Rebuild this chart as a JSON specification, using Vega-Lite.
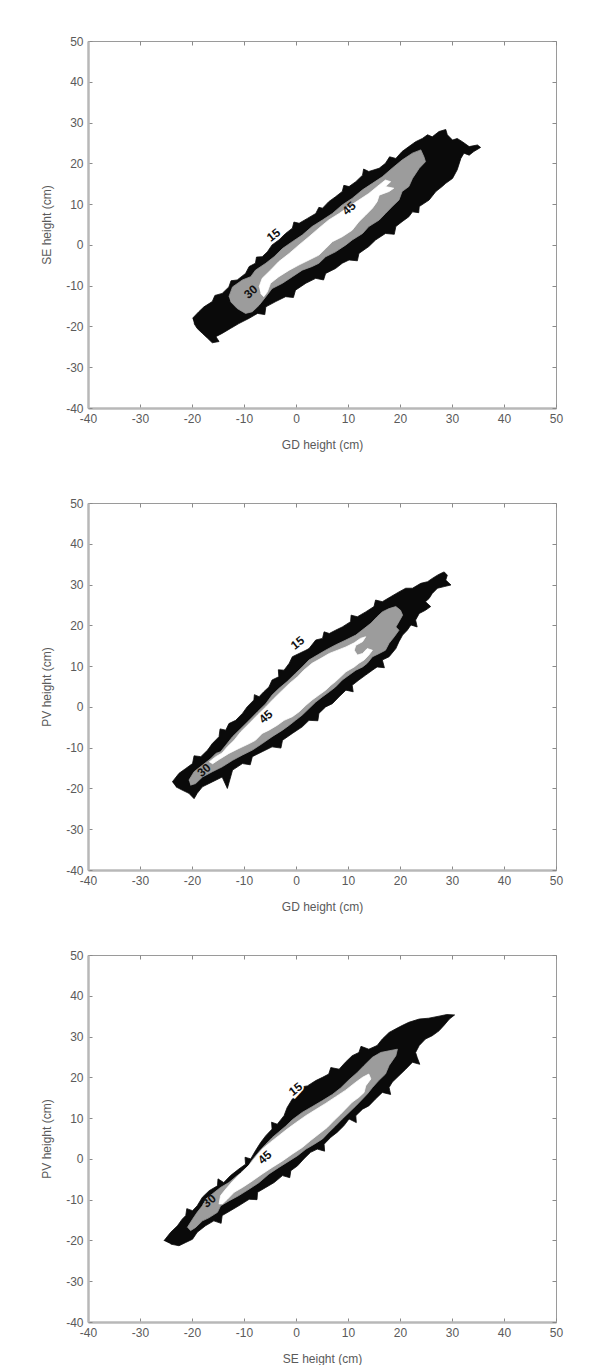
{
  "$schema": "https://vega.github.io/schema/vega-lite/v6.json",
  "background": "white",
  "padding": {"left": 40, "top": 34, "right": 0, "bottom": 0},
  "config": {
    "view": {"stroke": "#9a9a9a", "strokeWidth": 1},
    "axis": {
      "labelFont": "Liberation Sans", "labelFontSize": 12, "labelColor": "#5a5a5a",
      "titleFont": "Liberation Sans", "titleFontSize": 12, "titleFontWeight": "normal", "titleColor": "#5a5a5a",
      "domainColor": "#b8b8b8", "domainWidth": 2.5,
      "tickColor": "#8a8a8a", "tickSize": -4, "tickWidth": 1,
      "labelPadding": 9,
      "grid": false, "labelFlush": false, "labelOverlap": false
    },
    "axisX": {"titlePadding": 15},
    "axisY": {"titlePadding": 12}
  },
  "datasets": {
    "se_gd": [
      {"level":15,"x":-19.9,"y":-18.0},{"level":15,"x":-18.7,"y":-16.4},{"level":15,"x":-17.7,"y":-15.2},{"level":15,"x":-16.1,"y":-13.9},{"level":15,"x":-15.6,"y":-12.4},{"level":15,"x":-14.2,"y":-11.9},{"level":15,"x":-12.9,"y":-10.3},{"level":15,"x":-12.5,"y":-8.8},{"level":15,"x":-11.3,"y":-8.6},{"level":15,"x":-9.7,"y":-7.0},{"level":15,"x":-9.0,"y":-5.3},{"level":15,"x":-7.8,"y":-4.5},{"level":15,"x":-7.6,"y":-3.0},{"level":15,"x":-6.5,"y":-2.9},{"level":15,"x":-5.5,"y":-1.7},{"level":15,"x":-4.6,"y":0.0},{"level":15,"x":-3.3,"y":1.2},{"level":15,"x":-2.0,"y":2.8},{"level":15,"x":-0.7,"y":4.1},{"level":15,"x":-0.4,"y":5.6},{"level":15,"x":0.6,"y":5.3},{"level":15,"x":2.2,"y":6.5},{"level":15,"x":3.8,"y":7.7},{"level":15,"x":4.4,"y":9.2},{"level":15,"x":5.1,"y":9.0},{"level":15,"x":6.3,"y":10.6},{"level":15,"x":7.6,"y":11.8},{"level":15,"x":8.9,"y":13.1},{"level":15,"x":9.2,"y":14.6},{"level":15,"x":10.2,"y":14.3},{"level":15,"x":11.5,"y":15.5},{"level":15,"x":12.8,"y":17.1},{"level":15,"x":13.0,"y":18.6},{"level":15,"x":14.0,"y":18.0},{"level":15,"x":16.0,"y":18.8},{"level":15,"x":17.2,"y":20.0},{"level":15,"x":18.0,"y":21.6},{"level":15,"x":19.2,"y":21.2},{"level":15,"x":20.4,"y":22.9},{"level":15,"x":21.7,"y":24.1},{"level":15,"x":23.0,"y":25.3},{"level":15,"x":24.3,"y":26.1},{"level":15,"x":25.3,"y":27.0},{"level":15,"x":26.2,"y":26.5},{"level":15,"x":27.5,"y":27.8},{"level":15,"x":28.8,"y":28.3},{"level":15,"x":29.1,"y":27.0},{"level":15,"x":30.1,"y":25.7},{"level":15,"x":31.0,"y":26.1},{"level":15,"x":32.0,"y":25.3},{"level":15,"x":33.3,"y":24.1},{"level":15,"x":34.9,"y":24.5},{"level":15,"x":35.5,"y":23.9},{"level":15,"x":34.2,"y":22.9},{"level":15,"x":33.3,"y":22.0},{"level":15,"x":32.3,"y":22.5},{"level":15,"x":31.7,"y":21.2},{"level":15,"x":31.0,"y":18.4},{"level":15,"x":30.1,"y":16.3},{"level":15,"x":28.8,"y":15.1},{"level":15,"x":28.1,"y":14.3},{"level":15,"x":26.9,"y":13.1},{"level":15,"x":25.6,"y":11.0},{"level":15,"x":23.7,"y":9.4},{"level":15,"x":23.6,"y":7.9},{"level":15,"x":22.4,"y":8.1},{"level":15,"x":21.7,"y":6.9},{"level":15,"x":20.4,"y":5.7},{"level":15,"x":19.2,"y":4.5},{"level":15,"x":18.9,"y":2.6},{"level":15,"x":17.2,"y":2.8},{"level":15,"x":15.3,"y":1.2},{"level":15,"x":14.0,"y":-0.4},{"level":15,"x":12.1,"y":-2.1},{"level":15,"x":11.8,"y":-3.9},{"level":15,"x":10.2,"y":-3.7},{"level":15,"x":8.9,"y":-4.5},{"level":15,"x":7.6,"y":-5.8},{"level":15,"x":5.7,"y":-7.0},{"level":15,"x":5.3,"y":-8.6},{"level":15,"x":3.8,"y":-8.2},{"level":15,"x":1.9,"y":-9.4},{"level":15,"x":-0.1,"y":-11.1},{"level":15,"x":-0.5,"y":-12.9},{"level":15,"x":-2.0,"y":-12.7},{"level":15,"x":-3.9,"y":-13.9},{"level":15,"x":-5.8,"y":-15.2},{"level":15,"x":-6.0,"y":-17.1},{"level":15,"x":-7.4,"y":-16.8},{"level":15,"x":-9.0,"y":-18.0},{"level":15,"x":-11.0,"y":-19.3},{"level":15,"x":-12.6,"y":-20.5},{"level":15,"x":-14.2,"y":-21.7},{"level":15,"x":-15.4,"y":-22.5},{"level":15,"x":-14.8,"y":-23.7},{"level":15,"x":-16.1,"y":-24.0},{"level":15,"x":-17.0,"y":-22.9},{"level":15,"x":-18.0,"y":-21.7},{"level":15,"x":-19.0,"y":-20.5},{"level":15,"x":-19.6,"y":-19.3},
      {"level":30,"x":-12.9,"y":-12.7},{"level":30,"x":-12.2,"y":-10.3},{"level":30,"x":-10.3,"y":-8.6},{"level":30,"x":-8.7,"y":-7.8},{"level":30,"x":-7.8,"y":-6.2},{"level":30,"x":-5.8,"y":-4.5},{"level":30,"x":-4.2,"y":-2.9},{"level":30,"x":-2.6,"y":-0.9},{"level":30,"x":-0.7,"y":0.8},{"level":30,"x":1.2,"y":2.4},{"level":30,"x":3.1,"y":4.5},{"level":30,"x":5.1,"y":6.1},{"level":30,"x":7.0,"y":7.7},{"level":30,"x":8.9,"y":9.8},{"level":30,"x":10.8,"y":11.4},{"level":30,"x":12.8,"y":13.5},{"level":30,"x":14.7,"y":15.1},{"level":30,"x":16.6,"y":16.7},{"level":30,"x":18.5,"y":18.8},{"level":30,"x":20.4,"y":20.8},{"level":30,"x":22.4,"y":22.5},{"level":30,"x":24.0,"y":23.3},{"level":30,"x":24.6,"y":21.6},{"level":30,"x":24.9,"y":20.4},{"level":30,"x":23.7,"y":18.8},{"level":30,"x":22.4,"y":16.3},{"level":30,"x":21.7,"y":14.3},{"level":30,"x":20.4,"y":13.1},{"level":30,"x":19.8,"y":11.0},{"level":30,"x":18.5,"y":9.4},{"level":30,"x":17.2,"y":7.7},{"level":30,"x":16.0,"y":6.1},{"level":30,"x":14.0,"y":4.5},{"level":30,"x":12.8,"y":2.8},{"level":30,"x":10.8,"y":1.2},{"level":30,"x":9.6,"y":0.0},{"level":30,"x":7.6,"y":-1.7},{"level":30,"x":5.7,"y":-2.9},{"level":30,"x":4.4,"y":-4.5},{"level":30,"x":3.1,"y":-5.3},{"level":30,"x":1.2,"y":-6.2},{"level":30,"x":-0.7,"y":-7.8},{"level":30,"x":-2.6,"y":-9.4},{"level":30,"x":-4.6,"y":-10.7},{"level":30,"x":-5.8,"y":-12.7},{"level":30,"x":-7.1,"y":-14.8},{"level":30,"x":-8.4,"y":-16.4},{"level":30,"x":-9.7,"y":-16.8},{"level":30,"x":-11.3,"y":-15.6},{"level":30,"x":-12.6,"y":-13.9},
      {"level":45,"x":-7.1,"y":-10.3},{"level":45,"x":-6.5,"y":-8.2},{"level":45,"x":-4.9,"y":-6.2},{"level":45,"x":-3.3,"y":-4.1},{"level":45,"x":-1.3,"y":-2.1},{"level":45,"x":0.6,"y":0.0},{"level":45,"x":2.5,"y":2.0},{"level":45,"x":4.4,"y":4.1},{"level":45,"x":6.3,"y":6.1},{"level":45,"x":8.3,"y":7.7},{"level":45,"x":10.2,"y":9.4},{"level":45,"x":12.1,"y":11.0},{"level":45,"x":14.0,"y":12.6},{"level":45,"x":16.0,"y":14.7},{"level":45,"x":17.2,"y":15.9},{"level":45,"x":18.2,"y":15.5},{"level":45,"x":17.2,"y":14.3},{"level":45,"x":18.8,"y":13.9},{"level":45,"x":17.9,"y":13.1},{"level":45,"x":16.0,"y":12.2},{"level":45,"x":15.6,"y":10.6},{"level":45,"x":14.7,"y":9.0},{"level":45,"x":13.4,"y":7.3},{"level":45,"x":12.1,"y":5.7},{"level":45,"x":10.8,"y":3.6},{"level":45,"x":8.9,"y":2.0},{"level":45,"x":7.0,"y":0.8},{"level":45,"x":5.7,"y":-0.9},{"level":45,"x":4.4,"y":-2.5},{"level":45,"x":2.5,"y":-3.7},{"level":45,"x":0.6,"y":-4.9},{"level":45,"x":-1.3,"y":-6.2},{"level":45,"x":-3.3,"y":-7.8},{"level":45,"x":-4.9,"y":-9.4},{"level":45,"x":-5.5,"y":-11.5},{"level":45,"x":-6.2,"y":-12.7},{"level":45,"x":-6.8,"y":-11.9}
    ],
    "pv_gd": [
      {"level":15,"x":-23.8,"y":-18.4},{"level":15,"x":-22.5,"y":-16.3},{"level":15,"x":-21.2,"y":-15.1},{"level":15,"x":-19.9,"y":-13.9},{"level":15,"x":-19.6,"y":-12.0},{"level":15,"x":-18.3,"y":-12.2},{"level":15,"x":-17.0,"y":-10.6},{"level":15,"x":-16.1,"y":-9.0},{"level":15,"x":-14.8,"y":-7.3},{"level":15,"x":-14.6,"y":-5.4},{"level":15,"x":-13.5,"y":-5.7},{"level":15,"x":-12.9,"y":-4.1},{"level":15,"x":-11.6,"y":-3.3},{"level":15,"x":-10.3,"y":-1.6},{"level":15,"x":-9.4,"y":0.0},{"level":15,"x":-8.1,"y":1.7},{"level":15,"x":-8.0,"y":3.0},{"level":15,"x":-7.1,"y":2.5},{"level":15,"x":-6.2,"y":3.7},{"level":15,"x":-5.2,"y":4.9},{"level":15,"x":-4.6,"y":6.6},{"level":15,"x":-3.3,"y":7.4},{"level":15,"x":-3.4,"y":9.1},{"level":15,"x":-2.3,"y":9.0},{"level":15,"x":-1.3,"y":10.7},{"level":15,"x":-0.7,"y":12.3},{"level":15,"x":0.6,"y":13.1},{"level":15,"x":1.9,"y":13.9},{"level":15,"x":2.5,"y":14.3},{"level":15,"x":3.8,"y":16.4},{"level":15,"x":5.1,"y":16.8},{"level":15,"x":5.4,"y":18.4},{"level":15,"x":6.4,"y":18.0},{"level":15,"x":7.6,"y":18.8},{"level":15,"x":8.9,"y":19.6},{"level":15,"x":10.5,"y":20.9},{"level":15,"x":10.6,"y":22.5},{"level":15,"x":11.8,"y":22.1},{"level":15,"x":13.4,"y":23.3},{"level":15,"x":15.0,"y":24.6},{"level":15,"x":15.3,"y":26.2},{"level":15,"x":16.6,"y":25.8},{"level":15,"x":18.2,"y":27.0},{"level":15,"x":19.8,"y":28.2},{"level":15,"x":21.1,"y":29.1},{"level":15,"x":22.4,"y":29.1},{"level":15,"x":24.0,"y":30.3},{"level":15,"x":25.3,"y":30.7},{"level":15,"x":26.2,"y":31.5},{"level":15,"x":27.2,"y":32.3},{"level":15,"x":27.8,"y":32.7},{"level":15,"x":28.5,"y":33.1},{"level":15,"x":29.1,"y":32.3},{"level":15,"x":28.8,"y":31.1},{"level":15,"x":29.8,"y":29.9},{"level":15,"x":28.5,"y":29.5},{"level":15,"x":27.2,"y":29.1},{"level":15,"x":26.2,"y":27.8},{"level":15,"x":25.6,"y":26.6},{"level":15,"x":24.9,"y":25.8},{"level":15,"x":25.9,"y":24.6},{"level":15,"x":24.9,"y":23.7},{"level":15,"x":23.7,"y":22.9},{"level":15,"x":23.0,"y":21.3},{"level":15,"x":23.3,"y":19.6},{"level":15,"x":22.1,"y":20.1},{"level":15,"x":21.4,"y":18.8},{"level":15,"x":20.5,"y":17.6},{"level":15,"x":19.8,"y":16.0},{"level":15,"x":19.2,"y":14.3},{"level":15,"x":17.9,"y":12.3},{"level":15,"x":16.6,"y":11.5},{"level":15,"x":17.0,"y":9.6},{"level":15,"x":15.6,"y":9.8},{"level":15,"x":14.7,"y":9.0},{"level":15,"x":13.4,"y":7.8},{"level":15,"x":12.1,"y":6.6},{"level":15,"x":10.8,"y":5.3},{"level":15,"x":11.0,"y":3.7},{"level":15,"x":9.6,"y":4.1},{"level":15,"x":8.3,"y":2.5},{"level":15,"x":7.0,"y":0.8},{"level":15,"x":5.7,"y":0.0},{"level":15,"x":4.4,"y":-1.6},{"level":15,"x":4.2,"y":-3.4},{"level":15,"x":2.5,"y":-3.3},{"level":15,"x":1.2,"y":-4.9},{"level":15,"x":-0.7,"y":-6.5},{"level":15,"x":-2.6,"y":-8.2},{"level":15,"x":-2.9,"y":-10.1},{"level":15,"x":-4.6,"y":-9.8},{"level":15,"x":-6.5,"y":-11.0},{"level":15,"x":-8.4,"y":-12.2},{"level":15,"x":-8.8,"y":-14.2},{"level":15,"x":-10.3,"y":-13.9},{"level":15,"x":-12.2,"y":-15.5},{"level":15,"x":-13.2,"y":-20.0},{"level":15,"x":-14.2,"y":-17.2},{"level":15,"x":-16.1,"y":-18.4},{"level":15,"x":-18.0,"y":-19.6},{"level":15,"x":-19.0,"y":-21.2},{"level":15,"x":-19.6,"y":-22.5},{"level":15,"x":-20.6,"y":-21.2},{"level":15,"x":-21.9,"y":-20.4},{"level":15,"x":-23.1,"y":-19.6},
      {"level":30,"x":-20.6,"y":-18.0},{"level":30,"x":-19.6,"y":-15.9},{"level":30,"x":-18.0,"y":-14.3},{"level":30,"x":-16.4,"y":-12.7},{"level":30,"x":-15.4,"y":-11.4},{"level":30,"x":-14.5,"y":-11.0},{"level":30,"x":-13.5,"y":-9.4},{"level":30,"x":-12.2,"y":-7.3},{"level":30,"x":-10.6,"y":-5.3},{"level":30,"x":-9.0,"y":-3.3},{"level":30,"x":-7.4,"y":-1.2},{"level":30,"x":-5.8,"y":0.8},{"level":30,"x":-4.6,"y":2.9},{"level":30,"x":-3.3,"y":4.5},{"level":30,"x":-1.7,"y":6.2},{"level":30,"x":-0.1,"y":8.2},{"level":30,"x":1.2,"y":9.8},{"level":30,"x":2.5,"y":11.5},{"level":30,"x":4.1,"y":12.7},{"level":30,"x":5.7,"y":13.9},{"level":30,"x":7.6,"y":15.2},{"level":30,"x":9.6,"y":16.4},{"level":30,"x":11.5,"y":17.6},{"level":30,"x":13.1,"y":19.2},{"level":30,"x":14.4,"y":20.5},{"level":30,"x":15.6,"y":22.1},{"level":30,"x":16.6,"y":23.3},{"level":30,"x":17.9,"y":24.1},{"level":30,"x":19.2,"y":24.6},{"level":30,"x":20.1,"y":23.7},{"level":30,"x":20.5,"y":22.5},{"level":30,"x":19.8,"y":20.9},{"level":30,"x":19.2,"y":19.6},{"level":30,"x":19.8,"y":18.8},{"level":30,"x":18.9,"y":17.2},{"level":30,"x":17.9,"y":15.6},{"level":30,"x":17.2,"y":13.9},{"level":30,"x":16.0,"y":13.1},{"level":30,"x":14.7,"y":12.3},{"level":30,"x":13.7,"y":10.7},{"level":30,"x":12.8,"y":9.8},{"level":30,"x":11.5,"y":9.0},{"level":30,"x":10.2,"y":7.8},{"level":30,"x":8.9,"y":6.6},{"level":30,"x":7.6,"y":4.9},{"level":30,"x":6.4,"y":3.7},{"level":30,"x":5.1,"y":2.5},{"level":30,"x":3.8,"y":1.2},{"level":30,"x":2.5,"y":-0.4},{"level":30,"x":1.2,"y":-2.0},{"level":30,"x":-0.1,"y":-3.3},{"level":30,"x":-1.3,"y":-4.5},{"level":30,"x":-2.6,"y":-5.7},{"level":30,"x":-4.6,"y":-7.3},{"level":30,"x":-6.5,"y":-9.0},{"level":30,"x":-8.4,"y":-10.6},{"level":30,"x":-10.3,"y":-11.8},{"level":30,"x":-12.2,"y":-13.1},{"level":30,"x":-14.2,"y":-14.7},{"level":30,"x":-16.1,"y":-15.9},{"level":30,"x":-18.0,"y":-17.2},{"level":30,"x":-19.3,"y":-18.8},{"level":30,"x":-20.3,"y":-19.2},
      {"level":45,"x":-16.7,"y":-13.5},{"level":45,"x":-15.4,"y":-12.2},{"level":45,"x":-14.2,"y":-11.3},{"level":45,"x":-13.2,"y":-9.8},{"level":45,"x":-11.9,"y":-8.2},{"level":45,"x":-10.6,"y":-6.1},{"level":45,"x":-9.0,"y":-4.1},{"level":45,"x":-7.4,"y":-2.0},{"level":45,"x":-5.8,"y":0.0},{"level":45,"x":-4.2,"y":2.1},{"level":45,"x":-2.6,"y":4.1},{"level":45,"x":-1.3,"y":5.7},{"level":45,"x":0.3,"y":7.4},{"level":45,"x":1.5,"y":9.0},{"level":45,"x":3.1,"y":10.7},{"level":45,"x":4.8,"y":11.9},{"level":45,"x":6.4,"y":13.1},{"level":45,"x":8.0,"y":13.9},{"level":45,"x":9.6,"y":14.7},{"level":45,"x":11.2,"y":15.7},{"level":45,"x":12.4,"y":16.8},{"level":45,"x":13.4,"y":17.2},{"level":45,"x":12.8,"y":16.0},{"level":45,"x":11.5,"y":15.1},{"level":45,"x":11.2,"y":13.9},{"level":45,"x":11.8,"y":12.7},{"level":45,"x":12.8,"y":13.1},{"level":45,"x":13.7,"y":14.3},{"level":45,"x":14.7,"y":13.9},{"level":45,"x":14.0,"y":12.7},{"level":45,"x":13.1,"y":11.5},{"level":45,"x":12.1,"y":10.7},{"level":45,"x":11.2,"y":9.8},{"level":45,"x":9.6,"y":8.6},{"level":45,"x":8.6,"y":7.4},{"level":45,"x":7.6,"y":6.2},{"level":45,"x":6.7,"y":5.3},{"level":45,"x":5.7,"y":4.1},{"level":45,"x":4.4,"y":2.9},{"level":45,"x":3.1,"y":1.7},{"level":45,"x":1.9,"y":0.4},{"level":45,"x":0.6,"y":-1.2},{"level":45,"x":-0.7,"y":-2.4},{"level":45,"x":-2.3,"y":-3.3},{"level":45,"x":-3.6,"y":-4.5},{"level":45,"x":-5.2,"y":-5.7},{"level":45,"x":-6.5,"y":-6.5},{"level":45,"x":-7.8,"y":-8.2},{"level":45,"x":-9.0,"y":-9.0},{"level":45,"x":-11.0,"y":-10.2},{"level":45,"x":-12.9,"y":-11.4},{"level":45,"x":-14.8,"y":-12.9},{"level":45,"x":-16.1,"y":-14.0}
    ],
    "pv_se": [
      {"level":15,"x":-25.4,"y":-20.1},{"level":15,"x":-24.1,"y":-18.0},{"level":15,"x":-22.8,"y":-16.4},{"level":15,"x":-21.9,"y":-14.8},{"level":15,"x":-21.2,"y":-13.9},{"level":15,"x":-21.0,"y":-12.2},{"level":15,"x":-19.9,"y":-12.7},{"level":15,"x":-19.0,"y":-11.5},{"level":15,"x":-18.0,"y":-9.4},{"level":15,"x":-16.7,"y":-7.8},{"level":15,"x":-15.1,"y":-6.6},{"level":15,"x":-15.0,"y":-4.9},{"level":15,"x":-13.9,"y":-5.8},{"level":15,"x":-12.6,"y":-4.1},{"level":15,"x":-11.0,"y":-2.5},{"level":15,"x":-9.7,"y":-1.3},{"level":15,"x":-9.8,"y":0.4},{"level":15,"x":-8.7,"y":0.0},{"level":15,"x":-7.8,"y":2.0},{"level":15,"x":-6.8,"y":4.0},{"level":15,"x":-5.8,"y":5.7},{"level":15,"x":-4.6,"y":7.3},{"level":15,"x":-4.7,"y":9.0},{"level":15,"x":-3.6,"y":8.5},{"level":15,"x":-2.3,"y":10.6},{"level":15,"x":-1.7,"y":12.6},{"level":15,"x":-0.7,"y":14.7},{"level":15,"x":0.6,"y":15.9},{"level":15,"x":0.8,"y":17.6},{"level":15,"x":2.2,"y":17.9},{"level":15,"x":3.8,"y":19.2},{"level":15,"x":5.1,"y":20.0},{"level":15,"x":6.3,"y":20.8},{"level":15,"x":6.7,"y":22.4},{"level":15,"x":8.3,"y":22.0},{"level":15,"x":9.5,"y":23.7},{"level":15,"x":10.8,"y":25.3},{"level":15,"x":12.1,"y":26.1},{"level":15,"x":12.5,"y":27.6},{"level":15,"x":14.0,"y":26.9},{"level":15,"x":15.6,"y":27.8},{"level":15,"x":16.6,"y":29.4},{"level":15,"x":17.9,"y":31.0},{"level":15,"x":19.2,"y":31.9},{"level":15,"x":20.4,"y":32.7},{"level":15,"x":21.7,"y":33.5},{"level":15,"x":23.7,"y":34.3},{"level":15,"x":25.5,"y":34.5},{"level":15,"x":27.5,"y":35.0},{"level":15,"x":29.0,"y":35.4},{"level":15,"x":30.5,"y":35.3},{"level":15,"x":29.5,"y":34.3},{"level":15,"x":28.5,"y":32.8},{"level":15,"x":27.5,"y":31.4},{"level":15,"x":26.2,"y":30.2},{"level":15,"x":24.9,"y":29.4},{"level":15,"x":23.7,"y":27.8},{"level":15,"x":23.0,"y":26.1},{"level":15,"x":23.3,"y":24.9},{"level":15,"x":23.8,"y":23.2},{"level":15,"x":22.4,"y":23.7},{"level":15,"x":21.1,"y":22.0},{"level":15,"x":19.8,"y":20.4},{"level":15,"x":18.5,"y":18.8},{"level":15,"x":17.9,"y":17.5},{"level":15,"x":18.2,"y":15.8},{"level":15,"x":16.6,"y":16.3},{"level":15,"x":15.3,"y":14.7},{"level":15,"x":14.0,"y":13.0},{"level":15,"x":12.8,"y":12.2},{"level":15,"x":11.5,"y":10.6},{"level":15,"x":11.6,"y":8.9},{"level":15,"x":10.2,"y":9.8},{"level":15,"x":9.2,"y":8.1},{"level":15,"x":7.9,"y":6.5},{"level":15,"x":6.7,"y":5.3},{"level":15,"x":5.4,"y":3.6},{"level":15,"x":5.5,"y":1.9},{"level":15,"x":4.1,"y":2.4},{"level":15,"x":2.8,"y":1.6},{"level":15,"x":1.5,"y":0.0},{"level":15,"x":0.3,"y":-1.7},{"level":15,"x":-1.0,"y":-2.9},{"level":15,"x":-1.2,"y":-4.6},{"level":15,"x":-2.6,"y":-4.1},{"level":15,"x":-4.2,"y":-5.8},{"level":15,"x":-5.8,"y":-7.0},{"level":15,"x":-7.4,"y":-8.2},{"level":15,"x":-7.5,"y":-10.0},{"level":15,"x":-9.0,"y":-9.9},{"level":15,"x":-11.0,"y":-11.5},{"level":15,"x":-12.6,"y":-12.7},{"level":15,"x":-14.2,"y":-13.9},{"level":15,"x":-14.4,"y":-15.8},{"level":15,"x":-15.8,"y":-15.2},{"level":15,"x":-17.4,"y":-16.4},{"level":15,"x":-19.0,"y":-18.0},{"level":15,"x":-19.9,"y":-19.7},{"level":15,"x":-21.2,"y":-20.5},{"level":15,"x":-22.5,"y":-21.3},{"level":15,"x":-24.1,"y":-20.9},
      {"level":30,"x":-20.9,"y":-16.8},{"level":30,"x":-19.9,"y":-14.8},{"level":30,"x":-19.0,"y":-13.1},{"level":30,"x":-18.0,"y":-11.5},{"level":30,"x":-17.4,"y":-9.9},{"level":30,"x":-16.1,"y":-8.6},{"level":30,"x":-14.5,"y":-7.0},{"level":30,"x":-12.9,"y":-5.8},{"level":30,"x":-11.3,"y":-4.1},{"level":30,"x":-9.7,"y":-2.9},{"level":30,"x":-8.4,"y":-0.2},{"level":30,"x":-7.1,"y":1.8},{"level":30,"x":-5.8,"y":3.6},{"level":30,"x":-4.6,"y":5.2},{"level":30,"x":-3.3,"y":6.6},{"level":30,"x":-2.0,"y":8.0},{"level":30,"x":-0.7,"y":9.6},{"level":30,"x":1.2,"y":11.4},{"level":30,"x":3.1,"y":12.8},{"level":30,"x":5.1,"y":14.3},{"level":30,"x":7.0,"y":15.8},{"level":30,"x":8.6,"y":17.4},{"level":30,"x":10.2,"y":19.4},{"level":30,"x":11.8,"y":21.2},{"level":30,"x":13.1,"y":22.9},{"level":30,"x":14.7,"y":24.9},{"level":30,"x":16.3,"y":26.1},{"level":30,"x":17.9,"y":26.5},{"level":30,"x":19.5,"y":26.9},{"level":30,"x":19.2,"y":25.3},{"level":30,"x":17.9,"y":22.9},{"level":30,"x":17.2,"y":20.8},{"level":30,"x":15.9,"y":19.2},{"level":30,"x":14.7,"y":17.5},{"level":30,"x":13.7,"y":15.9},{"level":30,"x":12.8,"y":14.7},{"level":30,"x":11.5,"y":13.0},{"level":30,"x":10.2,"y":11.4},{"level":30,"x":8.9,"y":9.8},{"level":30,"x":7.6,"y":8.1},{"level":30,"x":6.3,"y":6.5},{"level":30,"x":5.1,"y":4.9},{"level":30,"x":3.5,"y":3.6},{"level":30,"x":1.9,"y":2.4},{"level":30,"x":0.3,"y":0.8},{"level":30,"x":-1.3,"y":-0.5},{"level":30,"x":-3.3,"y":-2.1},{"level":30,"x":-5.2,"y":-3.7},{"level":30,"x":-7.1,"y":-5.8},{"level":30,"x":-9.0,"y":-7.4},{"level":30,"x":-11.0,"y":-9.0},{"level":30,"x":-12.9,"y":-10.3},{"level":30,"x":-14.5,"y":-11.5},{"level":30,"x":-15.1,"y":-13.1},{"level":30,"x":-16.7,"y":-14.4},{"level":30,"x":-18.0,"y":-15.2},{"level":30,"x":-19.3,"y":-16.8},{"level":30,"x":-20.3,"y":-17.6},
      {"level":45,"x":-14.8,"y":-11.1},{"level":45,"x":-14.5,"y":-9.0},{"level":45,"x":-13.5,"y":-7.4},{"level":45,"x":-12.2,"y":-5.5},{"level":45,"x":-10.6,"y":-3.4},{"level":45,"x":-9.0,"y":-1.5},{"level":45,"x":-7.8,"y":0.4},{"level":45,"x":-6.5,"y":2.4},{"level":45,"x":-4.9,"y":4.1},{"level":45,"x":-3.3,"y":5.7},{"level":45,"x":-1.7,"y":7.3},{"level":45,"x":-0.1,"y":8.8},{"level":45,"x":1.9,"y":10.6},{"level":45,"x":3.8,"y":12.1},{"level":45,"x":5.7,"y":13.6},{"level":45,"x":7.6,"y":15.2},{"level":45,"x":9.5,"y":16.8},{"level":45,"x":11.5,"y":18.8},{"level":45,"x":12.8,"y":20.0},{"level":45,"x":14.0,"y":20.8},{"level":45,"x":14.4,"y":19.6},{"level":45,"x":13.4,"y":17.9},{"level":45,"x":13.1,"y":16.3},{"level":45,"x":12.1,"y":15.1},{"level":45,"x":10.8,"y":13.9},{"level":45,"x":9.5,"y":12.2},{"level":45,"x":8.6,"y":11.0},{"level":45,"x":7.3,"y":9.4},{"level":45,"x":6.0,"y":7.7},{"level":45,"x":4.4,"y":6.1},{"level":45,"x":2.8,"y":4.5},{"level":45,"x":1.2,"y":2.8},{"level":45,"x":-0.7,"y":1.2},{"level":45,"x":-2.6,"y":-0.5},{"level":45,"x":-4.6,"y":-2.1},{"level":45,"x":-6.5,"y":-3.7},{"level":45,"x":-8.4,"y":-5.4},{"level":45,"x":-10.3,"y":-7.0},{"level":45,"x":-11.9,"y":-8.2},{"level":45,"x":-13.2,"y":-9.9},{"level":45,"x":-14.2,"y":-11.1}
    ],
    "labels": [
      {"panel":"se_gd","text":"15","x":-4.3,"y":2.4},
      {"panel":"se_gd","text":"45","x":10.2,"y":9.0},
      {"panel":"se_gd","text":"30","x":-8.7,"y":-11.5},
      {"panel":"pv_gd","text":"15","x":0.3,"y":15.7},
      {"panel":"pv_gd","text":"45","x":-5.8,"y":-2.4},
      {"panel":"pv_gd","text":"30","x":-17.7,"y":-15.5},
      {"panel":"pv_se","text":"15","x":-0.1,"y":17.1},
      {"panel":"pv_se","text":"45","x":-6.0,"y":0.4},
      {"panel":"pv_se","text":"30","x":-16.7,"y":-10.3}
    ]
  },
  "vconcat": [
    {
      "vconcat": [
        {
          "width": 468, "height": 367,
          "layer": [
            {
              "data": {"name": "se_gd"},
              "transform": [{"filter": "datum.level == 15"}],
              "mark": {"type": "line", "fill": "#0a0a0a", "stroke": "#0a0a0a", "strokeWidth": 0.8},
              "encoding": {
                "x": {"field": "x", "type": "quantitative", "scale": {"domain": [-40, 50], "nice": false, "zero": false},
                      "axis": {"orient": "bottom", "title": "GD height (cm)", "values": [-40,-30,-20,-10,0,10,20,30,40,50], "labelExpr": "toString(datum.value)"}},
                "y": {"field": "y", "type": "quantitative", "scale": {"domain": [-40, 50], "nice": false, "zero": false},
                      "axis": {"orient": "left", "title": "SE height (cm)", "values": [-40,-30,-20,-10,0,10,20,30,40,50], "labelExpr": "toString(datum.value)"}},
                "order": {"value": null}
              }
            },
            {
              "data": {"name": "se_gd"},
              "transform": [{"filter": "datum.level == 30"}],
              "mark": {"type": "line", "fill": "#9c9c9c", "stroke": "#9c9c9c", "strokeWidth": 0.8},
              "encoding": {
                "x": {"field": "x", "type": "quantitative",
                      "axis": {"orient": "top", "title": null, "labels": false, "domain": false, "values": [-40,-30,-20,-10,0,10,20,30,40,50]}},
                "y": {"field": "y", "type": "quantitative",
                      "axis": {"orient": "right", "title": null, "labels": false, "domain": false, "values": [-40,-30,-20,-10,0,10,20,30,40,50]}},
                "order": {"value": null}
              }
            },
            {
              "data": {"name": "se_gd"},
              "transform": [{"filter": "datum.level == 45"}],
              "mark": {"type": "line", "fill": "#ffffff", "stroke": "#ffffff", "strokeWidth": 0.8},
              "encoding": {
                "x": {"field": "x", "type": "quantitative", "axis": null},
                "y": {"field": "y", "type": "quantitative", "axis": null},
                "order": {"value": null}
              }
            },
            {
              "data": {"name": "labels"},
              "transform": [{"filter": "datum.panel == 'se_gd' && datum.text == '15'"}],
              "mark": {"type": "text", "font": "Liberation Sans", "fontSize": 12, "fontWeight": "bold", "align": "center", "baseline": "middle", "fill": "white", "stroke": "white", "strokeWidth": 4, "angle": -38},
              "encoding": {
                "x": {"field": "x", "type": "quantitative", "axis": null},
                "y": {"field": "y", "type": "quantitative", "axis": null},
                "text": {"field": "text"}
              }
            },
            {
              "data": {"name": "labels"},
              "transform": [{"filter": "datum.panel == 'se_gd'"}],
              "mark": {"type": "text", "font": "Liberation Sans", "fontSize": 12, "fontWeight": "bold", "align": "center", "baseline": "middle", "fill": "#111111"},
              "encoding": {
                "x": {"field": "x", "type": "quantitative", "axis": null},
                "y": {"field": "y", "type": "quantitative", "axis": null},
                "text": {"field": "text"},
                "angle": {"field": "text", "type": "nominal", "legend": null, "scale": {"domain": ["15","30","45"], "range": [-38,-42,-40]}}
              }
            }
          ],
          "resolve": {"axis": {"x": "independent", "y": "independent"}}
        },
        {
          "width": 468, "height": 367,
          "layer": [
            {
              "data": {"name": "pv_gd"},
              "transform": [{"filter": "datum.level == 15"}],
              "mark": {"type": "line", "fill": "#0a0a0a", "stroke": "#0a0a0a", "strokeWidth": 0.8},
              "encoding": {
                "x": {"field": "x", "type": "quantitative", "scale": {"domain": [-40, 50], "nice": false, "zero": false},
                      "axis": {"orient": "bottom", "title": "GD height (cm)", "values": [-40,-30,-20,-10,0,10,20,30,40,50], "labelExpr": "toString(datum.value)"}},
                "y": {"field": "y", "type": "quantitative", "scale": {"domain": [-40, 50], "nice": false, "zero": false},
                      "axis": {"orient": "left", "title": "PV height (cm)", "values": [-40,-30,-20,-10,0,10,20,30,40,50], "labelExpr": "toString(datum.value)"}},
                "order": {"value": null}
              }
            },
            {
              "data": {"name": "pv_gd"},
              "transform": [{"filter": "datum.level == 30"}],
              "mark": {"type": "line", "fill": "#9c9c9c", "stroke": "#9c9c9c", "strokeWidth": 0.8},
              "encoding": {
                "x": {"field": "x", "type": "quantitative",
                      "axis": {"orient": "top", "title": null, "labels": false, "domain": false, "values": [-40,-30,-20,-10,0,10,20,30,40,50]}},
                "y": {"field": "y", "type": "quantitative",
                      "axis": {"orient": "right", "title": null, "labels": false, "domain": false, "values": [-40,-30,-20,-10,0,10,20,30,40,50]}},
                "order": {"value": null}
              }
            },
            {
              "data": {"name": "pv_gd"},
              "transform": [{"filter": "datum.level == 45"}],
              "mark": {"type": "line", "fill": "#ffffff", "stroke": "#ffffff", "strokeWidth": 0.8},
              "encoding": {
                "x": {"field": "x", "type": "quantitative", "axis": null},
                "y": {"field": "y", "type": "quantitative", "axis": null},
                "order": {"value": null}
              }
            },
            {
              "data": {"name": "labels"},
              "transform": [{"filter": "datum.panel == 'pv_gd' && datum.text == '15'"}],
              "mark": {"type": "text", "font": "Liberation Sans", "fontSize": 12, "fontWeight": "bold", "align": "center", "baseline": "middle", "fill": "white", "stroke": "white", "strokeWidth": 4, "angle": -12},
              "encoding": {
                "x": {"field": "x", "type": "quantitative", "axis": null},
                "y": {"field": "y", "type": "quantitative", "axis": null},
                "text": {"field": "text"}
              }
            },
            {
              "data": {"name": "labels"},
              "transform": [{"filter": "datum.panel == 'pv_gd'"}],
              "mark": {"type": "text", "font": "Liberation Sans", "fontSize": 12, "fontWeight": "bold", "align": "center", "baseline": "middle", "fill": "#111111"},
              "encoding": {
                "x": {"field": "x", "type": "quantitative", "axis": null},
                "y": {"field": "y", "type": "quantitative", "axis": null},
                "text": {"field": "text"},
                "angle": {"field": "text", "type": "nominal", "legend": null, "scale": {"domain": ["15","30","45"], "range": [-12,-40,-40]}}
              }
            }
          ],
          "resolve": {"axis": {"x": "independent", "y": "independent"}}
        }
      ],
      "spacing": 45
    },
    {
      "width": 468, "height": 367,
      "layer": [
        {
          "data": {"name": "pv_se"},
          "transform": [{"filter": "datum.level == 15"}],
          "mark": {"type": "line", "fill": "#0a0a0a", "stroke": "#0a0a0a", "strokeWidth": 0.8},
          "encoding": {
            "x": {"field": "x", "type": "quantitative", "scale": {"domain": [-40, 50], "nice": false, "zero": false},
                  "axis": {"orient": "bottom", "title": "SE height (cm)", "values": [-40,-30,-20,-10,0,10,20,30,40,50], "labelExpr": "toString(datum.value)"}},
            "y": {"field": "y", "type": "quantitative", "scale": {"domain": [-40, 50], "nice": false, "zero": false},
                  "axis": {"orient": "left", "title": "PV height (cm)", "values": [-40,-30,-20,-10,0,10,20,30,40,50], "labelExpr": "toString(datum.value)"}},
            "order": {"value": null}
          }
        },
        {
          "data": {"name": "pv_se"},
          "transform": [{"filter": "datum.level == 30"}],
          "mark": {"type": "line", "fill": "#9c9c9c", "stroke": "#9c9c9c", "strokeWidth": 0.8},
          "encoding": {
            "x": {"field": "x", "type": "quantitative",
                  "axis": {"orient": "top", "title": null, "labels": false, "domain": false, "values": [-40,-30,-20,-10,0,10,20,30,40,50]}},
            "y": {"field": "y", "type": "quantitative",
                  "axis": {"orient": "right", "title": null, "labels": false, "domain": false, "values": [-40,-30,-20,-10,0,10,20,30,40,50]}},
            "order": {"value": null}
          }
        },
        {
          "data": {"name": "pv_se"},
          "transform": [{"filter": "datum.level == 45"}],
          "mark": {"type": "line", "fill": "#ffffff", "stroke": "#ffffff", "strokeWidth": 0.8},
          "encoding": {
            "x": {"field": "x", "type": "quantitative", "axis": null},
            "y": {"field": "y", "type": "quantitative", "axis": null},
            "order": {"value": null}
          }
        },
        {
          "data": {"name": "labels"},
          "transform": [{"filter": "datum.panel == 'pv_se' && datum.text == '15'"}],
          "mark": {"type": "text", "font": "Liberation Sans", "fontSize": 12, "fontWeight": "bold", "align": "center", "baseline": "middle", "fill": "white", "stroke": "white", "strokeWidth": 4, "angle": -48},
          "encoding": {
            "x": {"field": "x", "type": "quantitative", "axis": null},
            "y": {"field": "y", "type": "quantitative", "axis": null},
            "text": {"field": "text"}
          }
        },
        {
          "data": {"name": "labels"},
          "transform": [{"filter": "datum.panel == 'pv_se'"}],
          "mark": {"type": "text", "font": "Liberation Sans", "fontSize": 12, "fontWeight": "bold", "align": "center", "baseline": "middle", "fill": "#111111"},
          "encoding": {
            "x": {"field": "x", "type": "quantitative", "axis": null},
            "y": {"field": "y", "type": "quantitative", "axis": null},
            "text": {"field": "text"},
            "angle": {"field": "text", "type": "nominal", "legend": null, "scale": {"domain": ["15","30","45"], "range": [-48,-40,-35]}}
          }
        }
      ],
      "resolve": {"axis": {"x": "independent", "y": "independent"}}
    }
  ],
  "spacing": 35
}
